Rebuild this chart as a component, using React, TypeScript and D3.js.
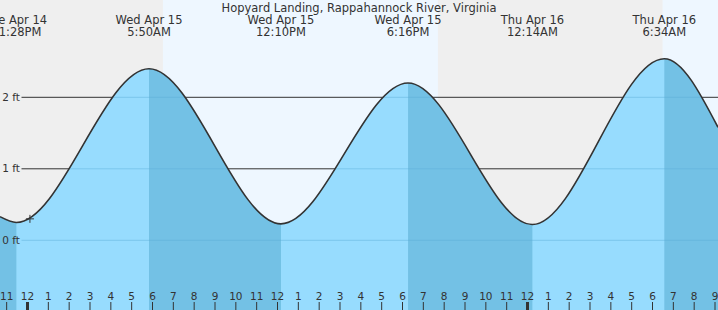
import React from 'react';
import * as d3 from 'd3';

const W = 718;
const H = 310;
const TITLE = 'Hopyard Landing, Rappahannock River, Virginia';
const viewStart = '2026-04-14T22:40:48Z';
const viewEnd = '2026-04-16T09:08:36Z';

// tide curve points: view edges + predicted extremes
const tideTimes = [
  '2026-04-14T22:40:48Z',
  '2026-04-14T23:28Z',
  '2026-04-15T05:50Z',
  '2026-04-15T12:10Z',
  '2026-04-15T18:16Z',
  '2026-04-16T00:14Z',
  '2026-04-16T06:34Z',
  '2026-04-16T09:08:36Z',
];
const tideLevels = [0.33, 0.25, 2.4, 0.23, 2.2, 0.22, 2.54, 1.58];

// extreme labels (indices 1..6 of tide arrays)
const eventDays = ['Tue Apr 14', 'Wed Apr 15', 'Wed Apr 15', 'Wed Apr 15', 'Thu Apr 16', 'Thu Apr 16'];
const eventClocks = ['11:28PM', '5:50AM', '12:10PM', '6:16PM', '12:14AM', '6:34AM'];

// daylight periods
const dayStarts = ['2026-04-15T06:30Z', '2026-04-16T06:29Z'];
const dayEnds = ['2026-04-15T19:42Z', '2026-04-16T09:08:36Z'];

const yTicks = [0, 1, 2];
const yTickLabels = ['0 ft', '1 ft', '2 ft'];

const nowTime = '2026-04-15T00:07Z';
const nowLevel = 0.3;

const FONT = 'DejaVu Sans, sans-serif';
const NIGHT = '#efefef';
const DAY = '#eef7ff';
const WATER = '#97dcfe';
const WATER_DARK = '#73c1e5';
const INK = '#333333';

export default function App() {
  const x = d3.scaleUtc().domain([new Date(viewStart), new Date(viewEnd)]).range([0, W]);
  const y = d3.scaleLinear().domain([0, 2]).range([240.3, 97.3]);

  const pts: [Date, number][] = tideTimes.map((t, i) => [new Date(t), tideLevels[i]]);
  const line = d3
    .line<[Date, number]>()
    .x((d) => x(d[0]))
    .y((d) => y(d[1]))
    .curve(d3.curveMonotoneX);
  const area = d3
    .area<[Date, number]>()
    .x((d) => x(d[0]))
    .y0(H)
    .y1((d) => y(d[1]))
    .curve(d3.curveMonotoneX);

  const falling: { x0: number; x1: number }[] = [];
  for (let i = 0; i < pts.length - 1; i++) {
    if (pts[i + 1][1] < pts[i][1]) falling.push({ x0: x(pts[i][0]), x1: x(pts[i + 1][0]) });
  }

  const hours = d3.utcHour.range(new Date(viewStart), new Date(viewEnd));

  const nx = x(new Date(nowTime));
  const ny = y(nowLevel);

  return (
    <svg
      width={W}
      height={H}
      style={{ position: 'absolute', left: 0, top: 0, fontFamily: FONT }}
    >
      <defs>
        <clipPath id="water">
          <path d={area(pts) || ''} />
        </clipPath>
      </defs>
      <rect x={0} y={0} width={W} height={H} fill={NIGHT} />
      {dayStarts.map((s, i) => (
        <rect
          key={i}
          x={x(new Date(s))}
          y={0}
          width={x(new Date(dayEnds[i])) - x(new Date(s))}
          height={H}
          fill={DAY}
        />
      ))}
      {yTicks.map((v) => (
        <line key={v} x1={21.5} x2={W} y1={y(v)} y2={y(v)} stroke={INK} strokeWidth={1} />
      ))}
      <path d={area(pts) || ''} fill={WATER} />
      <g clipPath="url(#water)">
        {falling.map((b, i) => (
          <rect key={i} x={b.x0} y={0} width={b.x1 - b.x0} height={H} fill={WATER_DARK} />
        ))}
        {yTicks.map((v) => (
          <line
            key={v}
            x1={21.5}
            x2={W}
            y1={y(v)}
            y2={y(v)}
            stroke="#5aaed6"
            strokeOpacity={0.45}
            strokeWidth={1}
          />
        ))}
      </g>
      <path d={line(pts) || ''} fill="none" stroke={INK} strokeWidth={1.6} />
      {yTicks.map((v, i) => (
        <text
          key={v}
          x={20}
          y={y(v)}
          dy="0.35em"
          textAnchor="end"
          fontSize={10.5}
          fill={INK}
        >
          {yTickLabels[i]}
        </text>
      ))}
      {hours.map((h, i) => {
        const hh = h.getUTCHours();
        const lab = String(hh % 12 === 0 ? 12 : hh % 12);
        const mid = hh === 0;
        return (
          <g key={i} transform={`translate(${x(h)},0)`}>
            <line
              x1={0}
              x2={0}
              y1={302}
              y2={H}
              stroke={INK}
              strokeWidth={mid ? 3 : 1}
            />
            <text y={299.5} textAnchor="middle" fontSize={10.5} fill={INK}>
              {lab}
            </text>
          </g>
        );
      })}
      <g stroke={INK} strokeWidth={1}>
        <line x1={nx - 4} x2={nx + 4} y1={ny} y2={ny} />
        <line x1={nx} x2={nx} y1={ny - 4} y2={ny + 4} />
      </g>
      {eventDays.map((d, i) => {
        const ex = x(pts[i + 1][0]);
        return (
          <g key={i}>
            <text x={ex} y={23.5} textAnchor="middle" fontSize={11.5} fill={INK}>
              {d}
            </text>
            <text x={ex} y={35.5} textAnchor="middle" fontSize={11.5} fill={INK}>
              {eventClocks[i]}
            </text>
          </g>
        );
      })}
      <text x={359} y={11.5} textAnchor="middle" fontSize={11.5} fill={INK}>
        {TITLE}
      </text>
    </svg>
  );
}
